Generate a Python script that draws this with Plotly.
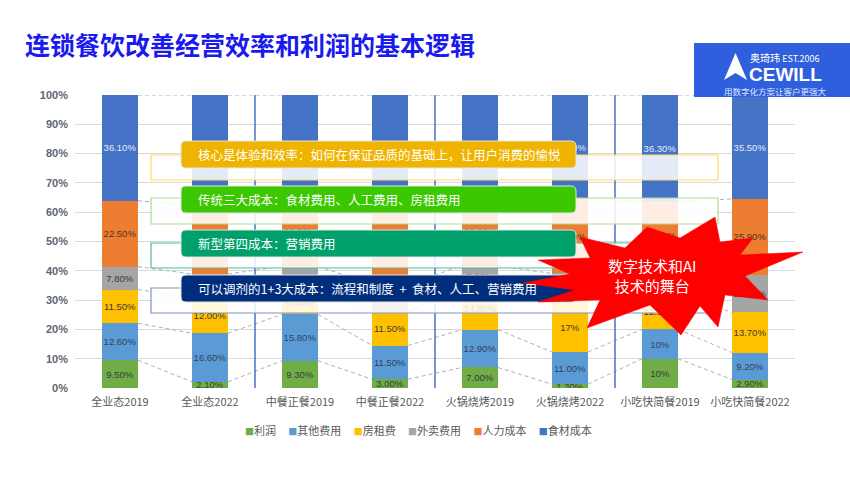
import plotly.graph_objects as go

# ---------------- data ----------------
categories = ["全业态2019", "全业态2022", "中餐正餐2019", "中餐正餐2022",
              "火锅烧烤2019", "火锅烧烤2022", "小吃快简餐2019", "小吃快简餐2022"]
series_names = ["利润", "其他费用", "房租费", "外卖费用", "人力成本", "食材成本"]

profit   = [9.5, 2.1, 9.3, 3.0, 7.0, 1.3, 10, 2.9]
other    = [12.6, 16.6, 15.8, 11.5, 12.9, 11.0, 10, 9.2]
rent     = [11.5, 12.0, 8.4, 11.5, 14.8, 17, 12.1, 13.7]
delivery = [7.8, 8.2, 8.0, 9.5, 7.0, 9.8, 8.4, 12.8]
labor    = [22.5, 23.6, 23.5, 26.5, 23.3, 25.4, 23.2, 25.9]
food     = [36.1, 37.5, 35.0, 38.0, 35.0, 35.5, 36.3, 35.5]

# decimals shown in the data labels
profit_dec   = [2, 2, 2, 2, 2, 2, 0, 2]
other_dec    = [2, 2, 2, 2, 2, 2, 0, 2]
rent_dec     = [2, 2, 2, 2, 2, 0, 2, 2]
delivery_dec = [2, 2, 2, 2, 2, 2, 2, 2]
labor_dec    = [2, 2, 2, 2, 2, 2, 2, 2]
food_dec     = [2, 2, 2, 2, 2, 2, 2, 2]

y_ticks = [0, 10, 20, 30, 40, 50, 60, 70, 80, 90, 100]

title_text = "连锁餐饮改善经营效率和利润的基本逻辑"
box_texts = ["核心是体验和效率：如何在保证品质的基础上，让用户消费的愉悦",
             "传统三大成本：食材费用、人工费用、房租费用",
             "新型第四成本：营销费用",
             "可以调剂的1+3大成本：流程和制度 \u00a0+\u00a0 食材、人工、营销费用"]
burst_text = "数字技术和AI<br>技术的舞台"

# ---------------- styles ----------------
series_values = [profit, other, rent, delivery, labor, food]
series_decs = [profit_dec, other_dec, rent_dec, delivery_dec, labor_dec, food_dec]
colors = ["#70ad47", "#5b9bd5", "#ffc000", "#a5a5a5", "#ed7d31", "#4472c4"]
label_colors = ["#3a3a3a", "#33405a", "#3a3a3a", "#3a3a3a", "#4a3528", "#e6ecf8"]

W, H = 850, 479
L, R, T, B = 75, 795, 95, 388


def px(x):
    return (x - L) / (R - L)


def py(y):
    return (B - y) / (B - T)


def rounded_path(x0, y0, x1, y1, r):
    return (f"M {px(x0 + r)},{py(y0)} L {px(x1 - r)},{py(y0)} "
            f"Q {px(x1)},{py(y0)} {px(x1)},{py(y0 + r)} "
            f"L {px(x1)},{py(y1 - r)} Q {px(x1)},{py(y1)} {px(x1 - r)},{py(y1)} "
            f"L {px(x0 + r)},{py(y1)} Q {px(x0)},{py(y1)} {px(x0)},{py(y1 - r)} "
            f"L {px(x0)},{py(y0 + r)} Q {px(x0)},{py(y0)} {px(x0 + r)},{py(y0)} Z")


def poly_path(points):
    return "M " + " L ".join(f"{px(a)},{py(b)}" for a, b in points) + " Z"


xs = list(range(len(categories)))
fig = go.Figure()

for name, vals, decs, col, lcol in zip(series_names, series_values, series_decs, colors, label_colors):
    texts = [f"{v:.{d}f}%" for v, d in zip(vals, decs)]
    fig.add_trace(go.Bar(
        x=xs, y=vals, name=name, width=0.4,
        marker=dict(color=col, line=dict(width=0)),
        text=texts, textposition="inside", insidetextanchor="middle",
        constraintext="none", textangle=0,
        textfont=dict(family="Liberation Sans", size=9.5, color=lcol),
        hoverinfo="skip", showlegend=False,
    ))

# series lines (connect segment tops between neighbouring bars)
running = [0] * len(xs)
lx, ly = [], []
for vals in series_values:
    running = [r + v for r, v in zip(running, vals)]
    for i in range(len(xs) - 1):
        lx += [xs[i] + 0.2, xs[i + 1] - 0.2, None]
        ly += [running[i], running[i + 1], None]
fig.add_trace(go.Scatter(x=lx, y=ly, mode="lines",
                         line=dict(color="#a7b0c2", width=1, dash="4px,3px"),
                         hoverinfo="skip", showlegend=False))

shapes = []
# group separators
for xv in [1.5, 3.5, 5.5]:
    shapes.append(dict(type="line", xref="x", yref="y", x0=xv, x1=xv, y0=0, y1=100,
                       line=dict(color="#4472c4", width=1.5), layer="above"))

# translucent framed bands
bands = [(155, 180, "#ffd966"), (198, 224, "#a9df8c"), (243, 268, "#4cbf8f"), (288, 313, "#8191c2")]
for y0, y1, lc in bands:
    shapes.append(dict(type="rect", xref="paper", yref="paper",
                       x0=px(151), x1=px(718), y0=py(y1), y1=py(y0),
                       fillcolor="rgba(255,255,255,0.86)", line=dict(color=lc, width=1.2),
                       layer="above"))

# solid rounded boxes
boxes = [(141, 168, "#f0b400"), (186, 213, "#3cc800"), (230, 257, "#00a06b"), (275, 302, "#002e7d")]
for y0, y1, fc in boxes:
    shapes.append(dict(type="path", xref="paper", yref="paper",
                       path=rounded_path(181, y0, 576, y1, 5),
                       fillcolor=fc, line=dict(color="#e4e4e4", width=1), layer="above"))

# red starburst
burst = [(715, 217), (720, 242), (753, 238), (740, 255), (803, 252), (745, 276),
         (768, 300), (725, 295), (718, 327), (700, 306), (681, 335), (650, 305),
         (587, 328), (600, 300), (538, 302), (575, 290), (523, 283), (570, 274),
         (538, 260), (590, 258), (580, 237), (625, 248), (647, 227), (680, 238)]
shapes.append(dict(type="path", xref="paper", yref="paper", path=poly_path(burst),
                   fillcolor="#ff0000", line=dict(color="#ff0000", width=0.5), layer="above"))

# logo
shapes.append(dict(type="rect", xref="paper", yref="paper",
                   x0=px(694), x1=px(850), y0=py(97), y1=py(43),
                   fillcolor="#2f5fdc", line=dict(width=0), layer="above"))
shapes.append(dict(type="path", xref="paper", yref="paper",
                   path=poly_path([(735.5, 53), (747, 80), (735.5, 73), (724, 80)]),
                   fillcolor="white", line=dict(width=0), layer="above"))

annotations = []
annotations.append(dict(xref="paper", yref="paper", x=px(23), y=py(44), xanchor="left", yanchor="middle",
                        text=f"<b>{title_text}</b>", showarrow=False,
                        font=dict(family="Noto Sans CJK SC", size=25, color="#1a1aee")))
for (y0, y1, _), t in zip(boxes, box_texts):
    annotations.append(dict(xref="paper", yref="paper", x=px(196), y=py((y0 + y1) / 2),
                            xanchor="left", yanchor="middle", text=t, showarrow=False,
                            font=dict(family="Noto Sans CJK SC", size=12.5, color="white")))
annotations.append(dict(xref="paper", yref="paper", x=px(652), y=py(275), xanchor="center",
                        yanchor="middle", text=burst_text, showarrow=False,
                        font=dict(family="Noto Sans CJK SC", size=15, color="white")))
annotations.append(dict(xref="paper", yref="paper", x=px(748), y=py(58), xanchor="left",
                        yanchor="middle", text="奥琦玮 <span style='font-size:9px'>EST.2006</span>",
                        showarrow=False, font=dict(family="Noto Sans CJK SC", size=10, color="white")))
annotations.append(dict(xref="paper", yref="paper", x=px(747), y=py(74), xanchor="left",
                        yanchor="middle", text="<b>CEWILL</b>", showarrow=False,
                        font=dict(family="Liberation Sans", size=19, color="white")))
annotations.append(dict(xref="paper", yref="paper", x=px(775), y=py(90.5), xanchor="center",
                        yanchor="middle", text="用数字化方案让客户更强大", showarrow=False,
                        font=dict(family="Noto Sans CJK SC", size=8.5, color="#dfe7ff")))

# legend row
legend_text = ("\u00a0" * 5).join(
    f"<span style='color:{c};font-size:9px'>■</span>{n}" for n, c in zip(series_names, colors))
annotations.append(dict(xref="paper", yref="paper", x=px(418), y=py(430), xanchor="center",
                        yanchor="middle", text=legend_text, showarrow=False,
                        font=dict(family="Noto Sans CJK SC", size=11, color="#595959")))

fig.update_layout(
    width=W, height=H, autosize=False,
    margin=dict(l=L, r=W - R, t=T, b=H - B, pad=0),
    paper_bgcolor="white", plot_bgcolor="white",
    barmode="stack", showlegend=False,
    font=dict(family="Noto Sans CJK SC", size=11, color="#595959"),
    shapes=shapes, annotations=annotations,
)
fig.update_yaxes(range=[0, 100], tickvals=y_ticks, ticktext=[f"<b>{t}%</b>" for t in y_ticks],
                 showgrid=True, gridcolor="#d9d9d9", gridwidth=1, zeroline=False, showline=False,
                 ticks="", ticklabelstandoff=6, fixedrange=True,
                 tickfont=dict(family="Liberation Sans", size=11, color="#5f6672"))
fig.update_xaxes(range=[-0.5, 7.5], tickvals=xs, ticktext=categories, showgrid=False,
                 zeroline=False, showline=False, ticks="", ticklabelstandoff=6, fixedrange=True,
                 tickfont=dict(family="Noto Sans CJK SC", size=11, color="#595959"))

fig.write_html("out.html", config={"displayModeBar": False},
               post_script="document.body.style.margin='0px';document.body.style.overflow='hidden';")
